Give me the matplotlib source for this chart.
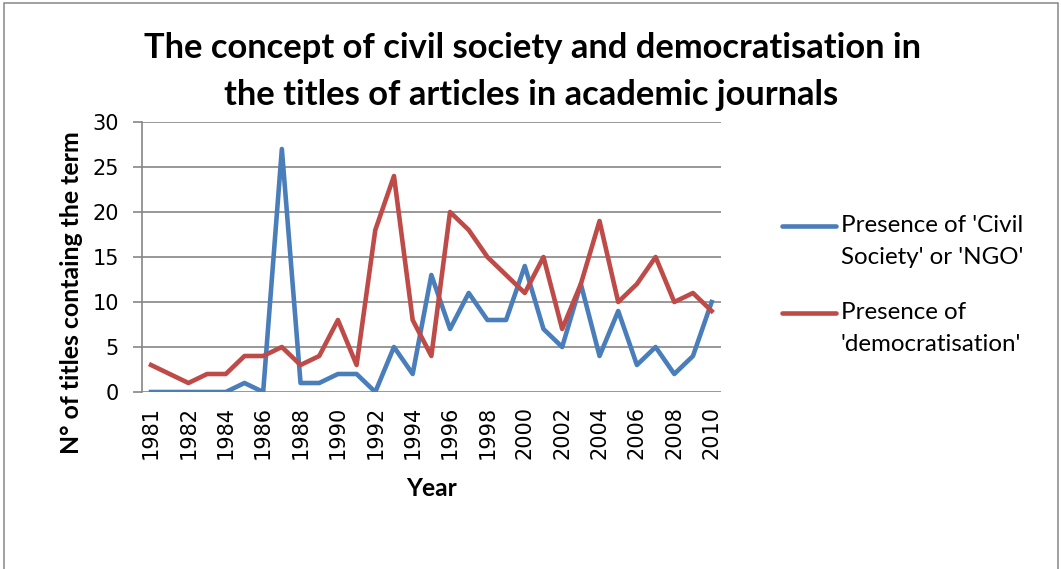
import matplotlib
matplotlib.use("Agg")
import matplotlib.pyplot as plt
from matplotlib.lines import Line2D
from matplotlib.patches import Rectangle

# data (31 points, every second one labelled)
tick_labels = ['1981', '1982', '1984', '1986', '1988', '1990', '1992', '1994',
               '1996', '1998', '2000', '2002', '2004', '2006', '2008', '2010']
civil_society = [0, 0, 0, 0, 0, 1, 0, 27, 1, 1, 2, 2, 0, 5, 2, 13, 7, 11, 8, 8,
                 14, 7, 5, 12, 4, 9, 3, 5, 2, 4, 10]
democratisation = [3, 2, 1, 2, 2, 4, 4, 5, 3, 4, 8, 3, 18, 24, 8, 4, 20, 18, 15, 13,
                   11, 15, 7, 12, 19, 10, 12, 15, 10, 11, 9]
series_names = ["Presence of 'Civil\nSociety' or 'NGO'",
                "Presence of\n'democratisation'"]

W, H = 1061, 569
BLUE = '#4A7EBB'
RED = '#BE4B48'
GRID = '#868686'
TXT = 'Lato'

fig = plt.figure(figsize=(W / 100, H / 100), dpi=100)
renderer = fig.canvas.get_renderer()


def fx(px):
    return px / W


def fy(py):
    return 1 - py / H


def fit(t, target):
    # scale font so the text is target px long
    bb = t.get_window_extent(renderer)
    length = bb.height if t.get_rotation() == 90 else bb.width
    t.set_fontsize(t.get_fontsize() * target / length)


# outer chart border
fig.patches.append(Rectangle((fx(4), -0.1), fx(1058) - fx(4), fy(3) + 0.1,
                             transform=fig.transFigure, fill=False,
                             edgecolor=GRID, linewidth=1.1))

ax = fig.add_axes([fx(141.7), fy(392), fx(721) - fx(141.7), fy(122) - fy(392)])
x = list(range(len(civil_society)))
ax.plot(x, civil_society, color=BLUE, linewidth=3.3, solid_joinstyle='round')
ax.plot(x, democratisation, color=RED, linewidth=3.3, solid_joinstyle='round')

ax.set_xlim(-0.5, len(x) - 0.5)
ax.set_ylim(0, 30)
ax.set_yticks(range(0, 31, 5))
ax.set_xticks(x[::2])
ax.set_xticklabels(tick_labels, rotation=90)
ax.grid(axis='y', color=GRID, linewidth=1.2)
ax.set_axisbelow(True)
for s in ['top', 'right', 'bottom']:
    ax.spines[s].set_visible(False)
ax.spines['left'].set_color(GRID)
ax.spines['left'].set_linewidth(1.2)
ax.tick_params(axis='y', length=6.5, width=1.2, color=GRID, pad=10,
               labelsize=15, labelcolor='black')
ax.tick_params(axis='x', length=0, pad=10, labelsize=15, labelcolor='black')

# titles and axis labels
t1 = fig.text(fx(532), fy(48), 'The concept of civil society and democratisation in',
              ha='center', va='center', fontsize=24, fontweight='bold', family=TXT)
fit(t1, 779)
t2 = fig.text(fx(531), fy(95), 'the titles of articles in academic journals',
              ha='center', va='center', fontsize=t1.get_fontsize(),
              fontweight='bold', family=TXT)
yl = fig.text(fx(72), fy(292.5), 'N° of titles containg the term', rotation=90,
              ha='center', va='center', fontsize=15, fontweight='bold', family=TXT)
fit(yl, 325)
xl = fig.text(fx(431), fy(488), 'Year', ha='center', va='center',
              fontsize=15, fontweight='bold', family=TXT)
fit(xl, 51)

# legend, drawn by hand so the key sits on the first text line
probe = fig.text(0, 0, series_names[0].split('\n')[0], fontsize=15, family=TXT)
fit(probe, 182)
leg_size = probe.get_fontsize()
probe.remove()

for i, (name, col) in enumerate(zip(series_names, [BLUE, RED])):
    y0 = 225.5 + i * 87
    fig.lines.append(Line2D([fx(782), fx(836)], [fy(y0), fy(y0)], color=col,
                            linewidth=3.3, solid_capstyle='round',
                            transform=fig.transFigure))
    for j, line in enumerate(name.split('\n')):
        fig.text(fx(841), fy(y0 + j * 32), line, ha='left', va='center',
                 fontsize=leg_size, family=TXT)

fig.savefig('out.png', dpi=100)
